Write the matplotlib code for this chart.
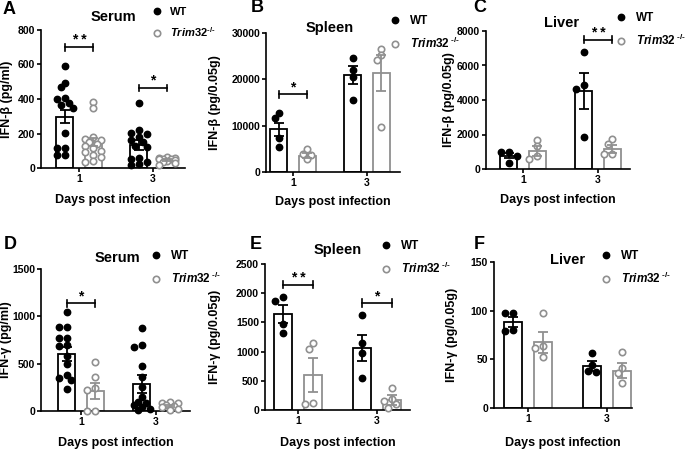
import numpy as np
import matplotlib
matplotlib.use("Agg")
import matplotlib.pyplot as plt
from matplotlib.lines import Line2D

# ---- data ----
days = ["1", "3"]
genotypes = ["WT", "Trim32-/-"]

# A: serum IFN-beta (pg/ml)
serum_ifnb_wt_d1 = [590, 495, 468, 404, 398, 375, 365, 345, 201, 114, 114, 75, 75]
serum_ifnb_ko_d1 = [380, 345, 180, 170, 160, 150, 140, 125, 115, 100, 90, 75, 65, 40, 35]
serum_ifnb_wt_d3 = [375, 220, 205, 195, 180, 165, 150, 130, 120, 60, 50, 35, 25, 15]
serum_ifnb_ko_d3 = [65, 60, 60, 55, 50, 50, 45, 40, 35, 30, 20]
serum_ifnb_mean = [[297, 133], [150, 46]]
serum_ifnb_sem = [[38, 30], [25, 6]]

# B: spleen IFN-beta (pg/0.05g)
spleen_ifnb_wt_d1 = [12700, 11600, 7400, 5300]
spleen_ifnb_ko_d1 = [5000, 3800, 3700, 2700]
spleen_ifnb_wt_d3 = [24700, 22100, 20600, 15600]
spleen_ifnb_ko_d3 = [26600, 25300, 24100, 9800]
spleen_ifnb_mean = [[9200, 20900], [3500, 21400]]
spleen_ifnb_sem = [[1400, 1900], [550, 3900]]

# C: liver IFN-beta (pg/0.05g)
liver_ifnb_wt_d1 = [1000, 1000, 750, 350]
liver_ifnb_ko_d1 = [1700, 1350, 730, 580]
liver_ifnb_wt_d3 = [6800, 4850, 4650, 1830]
liver_ifnb_ko_d3 = [1720, 1450, 850, 850]
liver_ifnb_mean = [[770, 4520], [1060, 1150]]
liver_ifnb_sem = [[150, 1030], [300, 230]]

# D: serum IFN-gamma (pg/ml)
serum_ifng_wt_d1 = [1050, 890, 890, 770, 770, 700, 690, 580, 500, 380, 350, 330, 230]
serum_ifng_ko_d1 = [522, 363, 243, 222, 0, 0]
serum_ifng_wt_d3 = [880, 700, 680, 480, 360, 250, 150, 100, 80, 60, 40, 20, 10]
serum_ifng_ko_d3 = [90, 85, 80, 60, 50, 40, 20, 10]
serum_ifng_mean = [[603, 286], [215, 55]]
serum_ifng_sem = [[70, 95], [85, 12]]

# E: spleen IFN-gamma (pg/0.05g)
spleen_ifng_wt_d1 = [1940, 1870, 1480, 1320]
spleen_ifng_ko_d1 = [1150, 1050, 120, 100]
spleen_ifng_wt_d3 = [1620, 1150, 980, 550]
spleen_ifng_ko_d3 = [380, 180, 150, 100, 40]
spleen_ifng_mean = [[1644, 1065], [600, 170]]
spleen_ifng_sem = [[160, 220], [290, 80]]

# F: liver IFN-gamma (pg/0.05g)
liver_ifng_wt_d1 = [98, 98, 80, 79]
liver_ifng_ko_d1 = [98, 64, 62, 52]
liver_ifng_wt_d3 = [57, 44, 38, 37]
liver_ifng_ko_d3 = [58, 41, 36, 26]
liver_ifng_mean = [[88.5, 43.5], [67.5, 38.5]]
liver_ifng_sem = [[5, 5], [11, 7.5]]

# significance: (day index, bracket height, stars)
sig_A = [(0, 700, "**"), (1, 464, "*")]
sig_B = [(0, 16800, "*")]
sig_C = [(1, 7500, "**")]
sig_D = [(0, 1140, "*")]
sig_E = [(0, 2146, "**"), (1, 1832, "*")]
sig_F = []

# ---- style ----
plt.rcParams['font.family'] = ['Liberation Sans', 'DejaVu Sans']
plt.rcParams['font.weight'] = 'bold'
plt.rcParams['mathtext.fontset'] = 'custom'
plt.rcParams['mathtext.it'] = 'Liberation Sans:italic:bold'
plt.rcParams['mathtext.rm'] = 'Liberation Sans:bold'
plt.rcParams['mathtext.bf'] = 'Liberation Sans:bold'

W, H = 685, 450
KO_COLOR = "#909090"
fig = plt.figure(figsize=(W / 100, H / 100), dpi=100)


def fx(px):
    return px / W


def fy(py):
    return 1 - py / H


def swarm(ax, vals, ymax, xc, d=6.0, step=4.0, nmax=2):
    """simple beeswarm offsets (data units), kept within the bar"""
    bb = ax.get_window_extent()
    x0, x1 = ax.get_xlim()
    px_per_x = bb.width / (x1 - x0)
    ypx = np.asarray(vals, float) / ymax * bb.height
    cands = [0.0]
    for k in range(1, nmax + 1):
        cands += [-k * step, k * step]
    placed = []
    xs = []
    for y in ypx:
        best, best_cost = 0.0, None
        for c in cands:
            cost = sum(max(0.0, d - np.hypot(c - px, y - py)) for px, py in placed)
            if best_cost is None or cost < best_cost - 1e-9:
                best, best_cost = c, cost
            if cost == 0:
                break
        placed.append((best, y))
        xs.append(xc + best / px_per_x)
    return xs


def panel(letter, box, tick_px, ymax, yticks, ylabel, title, pts, mean, sem,
          sigs, ylab_x, xlab_y, letter_xy, title_xy, leg_xy, ko_label,
          leg_size=8.5):
    l, r, t, b = box
    S = tick_px[1] - tick_px[0]
    ax = fig.add_axes([fx(l), fy(b), (r - l) / W, (b - t) / H])
    ax.set_xlim((l - tick_px[0]) / S, (r - tick_px[0]) / S)
    ax.set_ylim(0, ymax)
    for s in ["top", "right"]:
        ax.spines[s].set_visible(False)
    for s in ["left", "bottom"]:
        ax.spines[s].set_linewidth(1.2)
    ax.set_yticks(yticks)
    ax.set_xticks([0, 1])
    ax.set_xticklabels(days)
    ax.tick_params(axis="both", labelsize=7.5, width=1.2, length=2.8, pad=1.5)

    bw, off = 0.23, 0.19
    for g, col in enumerate(["black", KO_COLOR]):
        xpos = np.arange(2) + (-off if g == 0 else off)
        ax.bar(xpos, mean[g], bw, facecolor="white", edgecolor=col,
               linewidth=1.3, zorder=2)
        for d in range(2):
            vals = pts[g][d]
            xs = swarm(ax, vals, ymax, xpos[d])
            if g == 0:
                ax.plot(xs, vals, "o", ms=4.6, color="black", zorder=3,
                        clip_on=False)
            else:
                ax.plot(xs, vals, "o", ms=4.6, mfc="white", mec=col, mew=1.2,
                        zorder=3, clip_on=False)
        ax.errorbar(xpos, mean[g], yerr=sem[g], fmt="none", ecolor=col,
                    elinewidth=1.3, capsize=3.5, capthick=1.3, zorder=4)

    for d, h, stars in sigs:
        x1, x2 = d - off, d + off
        ax.plot([x1, x2], [h, h], color="black", lw=1.2, clip_on=False)
        cap = ymax * 0.025
        for xx in (x1, x2):
            ax.plot([xx, xx], [h - cap, h + cap], color="black", lw=1.2,
                    clip_on=False)
        ax.text(d, h, " ".join(stars), ha="center", va="bottom", fontsize=10,
                fontweight="bold")

    fig.text(fx(ylab_x), fy((t + b) / 2), ylabel, rotation=90, ha="center",
             va="center", fontsize=9, fontweight="bold")
    fig.text(fx((l + r) / 2), fy(xlab_y), "Days post infection", ha="center",
             va="center", fontsize=9, fontweight="bold")
    fig.text(fx(letter_xy[0]), fy(letter_xy[1]), letter, ha="center",
             va="center", fontsize=13, fontweight="bold")
    fig.text(fx(title_xy[0]), fy(title_xy[1]), title, ha="center",
             va="center", fontsize=10.5, fontweight="bold")

    handles = [Line2D([], [], ls="none", marker="o", ms=4.6, color="black"),
               Line2D([], [], ls="none", marker="o", ms=4.6, mfc="white",
                      mec=KO_COLOR, mew=1.2)]
    ax.legend(handles, [genotypes[0], ko_label], loc="upper left",
              bbox_to_anchor=(fx(leg_xy[0] - 6), fy(leg_xy[1] - 8)),
              bbox_transform=fig.transFigure, frameon=False,
              prop={"weight": "bold", "size": leg_size}, handlelength=1.0,
              handletextpad=0.75, labelspacing=0.75, borderpad=0,
              borderaxespad=0)
    return ax


ko_tight = r"$\mathit{Trim32}^{\text{-/-}}$"
ko_space = r"$\mathit{Trim32}^{\text{ -/-}}$"

panel("A", (41, 185, 30, 168), (79, 153), 800, [0, 200, 400, 600, 800],
      "IFN-β (pg/ml)", "Serum",
      [[serum_ifnb_wt_d1, serum_ifnb_wt_d3], [serum_ifnb_ko_d1, serum_ifnb_ko_d3]],
      serum_ifnb_mean, serum_ifnb_sem, sig_A,
      7, 200, (9, 10), (113, 17), (157, 15), ko_tight, leg_size=8)

panel("B", (266, 400, 33, 172), (293, 367), 30000, [0, 10000, 20000, 30000],
      "IFN-β (pg/0.05g)", "Spleen",
      [[spleen_ifnb_wt_d1, spleen_ifnb_wt_d3], [spleen_ifnb_ko_d1, spleen_ifnb_ko_d3]],
      spleen_ifnb_mean, spleen_ifnb_sem, sig_B,
      215, 202, (257, 8), (330, 28), (395, 23), ko_space)

panel("C", (486, 630, 31, 169), (523, 598), 8000, [0, 2000, 4000, 6000, 8000],
      "IFN-β (pg/0.05g)", "Liver",
      [[liver_ifnb_wt_d1, liver_ifnb_wt_d3], [liver_ifnb_ko_d1, liver_ifnb_ko_d3]],
      liver_ifnb_mean, liver_ifnb_sem, sig_C,
      449, 200, (480, 8), (562, 23), (621, 20), ko_space)

panel("D", (41, 190, 269, 411), (81, 156), 1500, [0, 500, 1000, 1500],
      "IFN-γ (pg/ml)", "Serum",
      [[serum_ifng_wt_d1, serum_ifng_wt_d3], [serum_ifng_ko_d1, serum_ifng_ko_d3]],
      serum_ifng_mean, serum_ifng_sem, sig_D,
      6, 443, (10, 244), (117, 258), (156, 258), ko_space)

panel("E", (265, 410, 264, 410), (298, 377), 2500, [0, 500, 1000, 1500, 2000, 2500],
      "IFN-γ (pg/0.05g)", "Spleen",
      [[spleen_ifng_wt_d1, spleen_ifng_wt_d3], [spleen_ifng_ko_d1, spleen_ifng_ko_d3]],
      spleen_ifng_mean, spleen_ifng_sem, sig_E,
      215, 443, (256, 244), (338, 250), (386, 248), ko_space)

panel("F", (494, 632, 262, 408), (528, 607), 150, [0, 50, 100, 150],
      "IFN-γ (pg/0.05g)", "Liver",
      [[liver_ifng_wt_d1, liver_ifng_wt_d3], [liver_ifng_ko_d1, liver_ifng_ko_d3]],
      liver_ifng_mean, liver_ifng_sem, sig_F,
      452, 443, (479, 244), (568, 260), (606, 258), ko_space)

fig.savefig("out.png", dpi=100)
